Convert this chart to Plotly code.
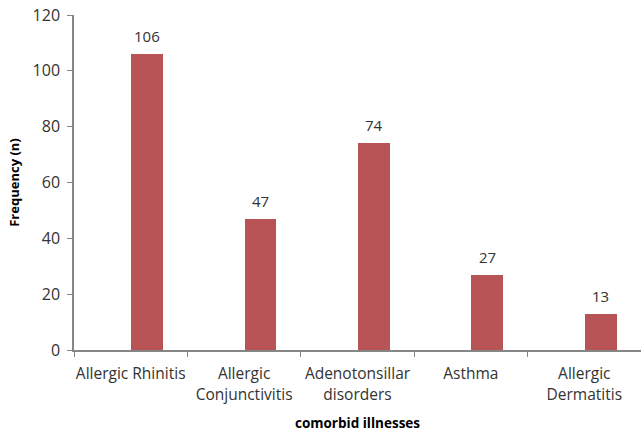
import plotly.graph_objects as go

categories = ["Allergic Rhinitis", "Allergic<br>Conjunctivitis", "Adenotonsillar<br>disorders", "Asthma", "Allergic<br>Dermatitis"]
values = [106, 47, 74, 27, 13]
y_ticks = [0, 20, 40, 60, 80, 100, 120]

BAR_W = 0.28
BAR_OFF = 0.005

fig = go.Figure()
fig.add_trace(go.Bar(
    x=categories, y=values,
    marker=dict(color="#B85356", line=dict(width=0)),
    width=BAR_W, offset=BAR_OFF,
    cliponaxis=False, hoverinfo="skip",
))

for i, v in enumerate(values):
    fig.add_annotation(
        x=i + BAR_OFF + BAR_W / 2, y=v, xref="x", yref="y",
        text=str(v), showarrow=False, yanchor="bottom", yshift=6,
        font=dict(family="Open Sans", size=15, color="#333333"),
    )

fig.update_layout(
    width=641, height=432,
    margin=dict(l=74, r=0, t=15, b=82),
    plot_bgcolor="white", paper_bgcolor="white",
    showlegend=False,
    font=dict(family="Open Sans", size=14, color="#333333"),
    xaxis=dict(
        type="category", tickson="boundaries", ticks="outside", ticklen=5,
        tickcolor="#868686", showline=True, linecolor="#868686", linewidth=1.5,
        showgrid=False, tickfont=dict(size=15.5, color="#333333"), tickangle=0,
        ticklabelstandoff=9, automargin=False,
        title=dict(text="<b>comorbid illnesses</b>", font=dict(size=13.5, color="#000000"), standoff=21),
    ),
    yaxis=dict(
        range=[0, 120], tickvals=y_ticks, ticks="outside", ticklen=5,
        tickcolor="#868686", showline=True, linecolor="#868686", linewidth=1.5,
        showgrid=False, zeroline=False, tickfont=dict(size=16, color="#333333"),
        ticklabelstandoff=4, automargin=False,
        title=dict(text="<b>Frequency (n)</b>", font=dict(size=13, color="#000000"), standoff=10),
    ),
    bargap=0.0,
)

fig.write_html("out.html", config={"displayModeBar": False},
               post_script="document.body.style.margin='0';document.body.style.overflow='hidden';")
